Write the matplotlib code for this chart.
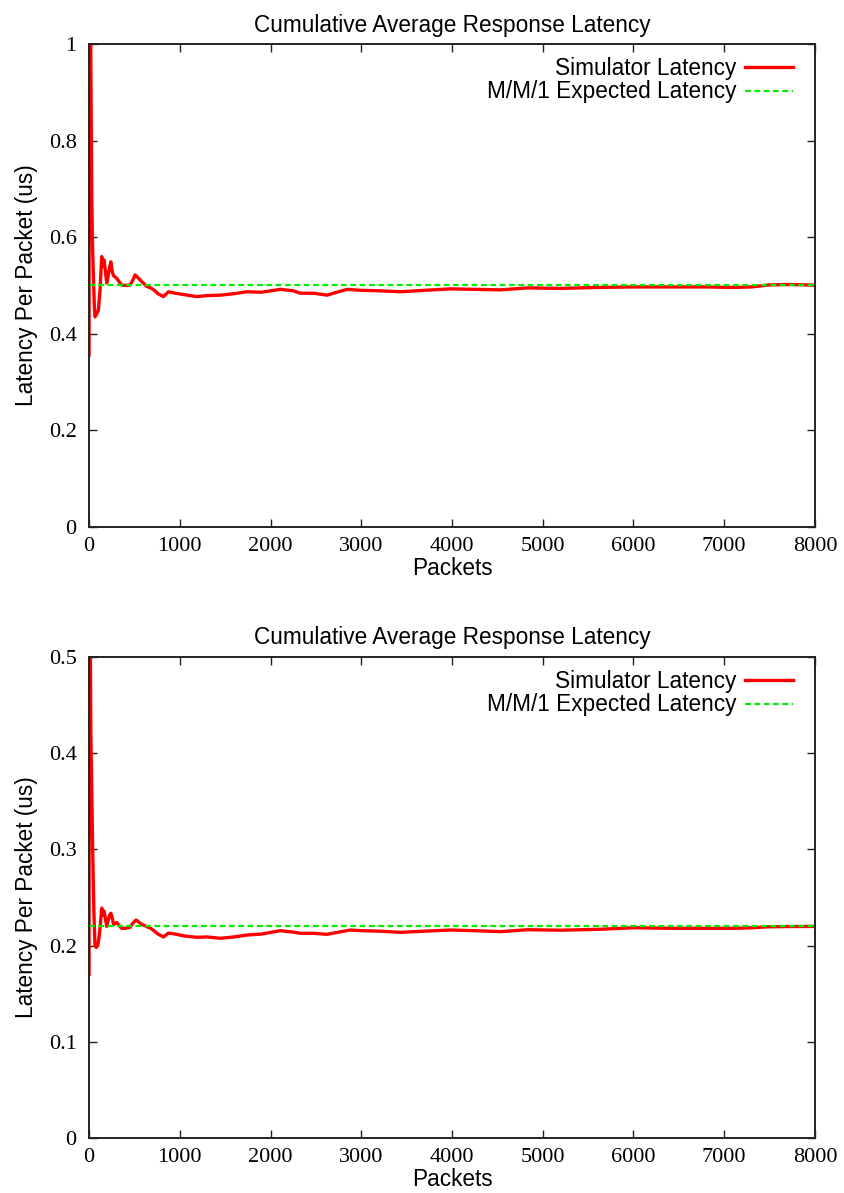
import numpy as np
import matplotlib
matplotlib.use("Agg")
import matplotlib.pyplot as plt

# cumulative average latency, first run (expected 0.5 us)
top_packets = [0, 3, 8, 14, 20, 30, 40, 48, 58, 66, 80, 95, 103, 112, 121, 140, 152, 165,
               180, 195, 210, 225, 240, 255, 270, 305, 330, 360, 400, 452, 480, 508, 540,
               581, 610, 636, 680, 720, 760, 820, 876, 950, 1050, 1188, 1300, 1446, 1600,
               1740, 1900, 2108, 2250, 2329, 2475, 2623, 2750, 2844, 3000, 3200, 3433, 3700,
               3985, 4250, 4536, 4830, 5200, 5600, 6008, 6400, 6800, 7108, 7300, 7480, 7700,
               7958, 8000]
top_latency = [0.356, 1.5, 1.45, 1.2, 0.95, 0.68, 0.57, 0.52, 0.46, 0.435, 0.44, 0.445,
               0.449, 0.47, 0.49, 0.56, 0.54, 0.553, 0.53, 0.505, 0.52, 0.535, 0.549, 0.53,
               0.52, 0.515, 0.508, 0.501, 0.50, 0.501, 0.51, 0.522, 0.516, 0.508, 0.503,
               0.498, 0.495, 0.49, 0.483, 0.477, 0.487, 0.484, 0.481, 0.477, 0.479, 0.480,
               0.483, 0.487, 0.486, 0.492, 0.489, 0.484, 0.484, 0.480, 0.487, 0.492, 0.490,
               0.489, 0.487, 0.490, 0.493, 0.492, 0.491, 0.495, 0.494, 0.496, 0.497, 0.497,
               0.497, 0.496, 0.497, 0.501, 0.502, 0.501, 0.500]
top_expected = 0.5

# cumulative average latency, second run (expected 0.22 us)
bottom_packets = [0, 3, 8, 14, 20, 30, 40, 48, 55, 66, 80, 95, 103, 112, 121, 140, 152, 165,
                  180, 195, 210, 225, 240, 255, 270, 305, 330, 360, 400, 452, 480, 519, 540,
                  581, 610, 636, 680, 720, 760, 820, 876, 950, 1050, 1188, 1300, 1446, 1600,
                  1740, 1900, 2108, 2250, 2329, 2475, 2623, 2750, 2880, 3000, 3200, 3433, 3700,
                  3985, 4250, 4536, 4830, 5200, 5640, 6008, 6400, 6800, 7108, 7300, 7480, 7700,
                  7958, 8000]
bottom_latency = [0.17, 0.65, 0.62, 0.52, 0.42, 0.36, 0.30, 0.26, 0.23, 0.20, 0.198, 0.20,
                  0.204, 0.21, 0.218, 0.239, 0.232, 0.236, 0.228, 0.22, 0.226, 0.231, 0.2336,
                  0.229, 0.222, 0.224, 0.221, 0.218, 0.218, 0.219, 0.223, 0.2266, 0.225, 0.222,
                  0.221, 0.2197, 0.218, 0.215, 0.212, 0.209, 0.213, 0.212, 0.210, 0.2086, 0.209,
                  0.2076, 0.209, 0.211, 0.212, 0.2155, 0.214, 0.2128, 0.2128, 0.2117, 0.214,
                  0.2162, 0.2155, 0.215, 0.2138, 0.215, 0.2162, 0.2155, 0.2145, 0.2165, 0.216,
                  0.217, 0.2186, 0.218, 0.218, 0.218, 0.2185, 0.2195, 0.2198, 0.2199, 0.22]
bottom_expected = 0.22

x_ticks = [0, 1000, 2000, 3000, 4000, 5000, 6000, 7000, 8000]
top_yticks = [0, 0.2, 0.4, 0.6, 0.8, 1]
bottom_yticks = [0, 0.1, 0.2, 0.3, 0.4, 0.5]

sans = "Liberation Sans"
serif = "Liberation Serif"
text_size = 16.3

fig = plt.figure(figsize=(8.44, 11.93), dpi=100)
ax_top = fig.add_axes([0.1055, 0.5583, 0.8601, 0.4048])
ax_bot = fig.add_axes([0.1055, 0.0461, 0.8601, 0.4032])


def draw_panel(ax, packets, latency, expected, yticks, ylim, ylabels):
    ax.plot(packets, latency, color="#ff0000", lw=2.4, label="Simulator Latency")
    ax.axhline(expected, color="#00ee00", lw=1.6, dashes=(2.6, 1.6),
               label="M/M/1 Expected Latency")
    ax.set_xlim(0, 8000)
    ax.set_ylim(*ylim)
    ax.set_xticks(x_ticks)
    ax.set_xticklabels([str(t) for t in x_ticks], family=serif, fontsize=16)
    ax.set_yticks(yticks)
    ax.set_yticklabels(ylabels, family=serif, fontsize=16)
    ax.tick_params(direction="in", length=6, width=1, top=True, right=True,
                   color="#222222")
    ax.tick_params(axis="x", pad=7)
    ax.tick_params(axis="y", pad=9)
    for s in ax.spines.values():
        s.set_linewidth(1.4)
        s.set_color("#222222")
    ax.set_title("Cumulative Average Response Latency", family=sans, fontsize=text_size,
                 pad=9)
    ax.set_xlabel("Packets", family=sans, fontsize=text_size, labelpad=1)
    ax.set_ylabel("Latency Per Packet (us)", family=sans, fontsize=text_size, labelpad=8)
    # legend sits in the upper right corner, text on the left of each sample line
    width_px, height_px = ax.bbox.width, ax.bbox.height
    ax.legend(loc="upper right", frameon=False, markerfirst=False,
              bbox_to_anchor=(1 - 22 / width_px, 1 - 13 / height_px),
              prop={"family": sans, "size": text_size}, handlelength=2.1,
              borderaxespad=0, borderpad=0, labelspacing=0.02, handletextpad=0.4)


draw_panel(ax_top, top_packets, top_latency, top_expected, top_yticks, (0, 1),
           ["0", "0.2", "0.4", "0.6", "0.8", "1"])
draw_panel(ax_bot, bottom_packets, bottom_latency, bottom_expected, bottom_yticks, (0, 0.5),
           ["0", "0.1", "0.2", "0.3", "0.4", "0.5"])

fig.savefig("out.png", dpi=100)
